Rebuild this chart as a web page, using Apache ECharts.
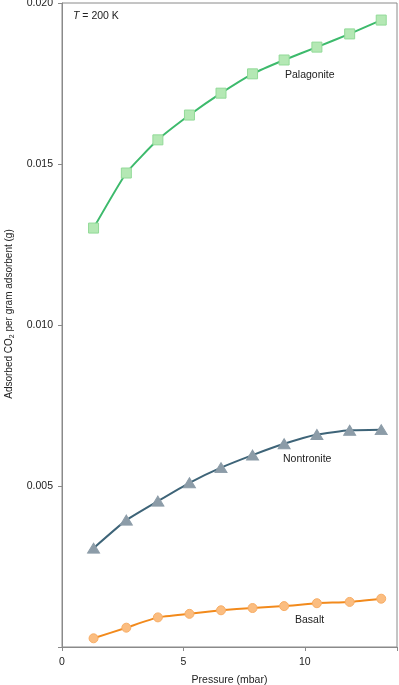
<!DOCTYPE html>
<html><head><meta charset="utf-8">
<script src="https://cdn.jsdelivr.net/npm/echarts@6/dist/echarts.min.js"></script>
<style>html,body{margin:0;padding:0;background:#fff}#c{width:399px;height:685px}</style>
</head><body><div id="c"></div>
<script>
const pressure = [1.3, 2.65, 3.95, 5.25, 6.55, 7.85, 9.15, 10.5, 11.85, 13.15];
const palagonite = [0.01301, 0.01472, 0.01575, 0.01652, 0.01720, 0.01780, 0.01823, 0.01863, 0.01904, 0.01947];
const nontronite = [0.00307, 0.00394, 0.00453, 0.00510, 0.00557, 0.00596, 0.00631, 0.00660, 0.00673, 0.00675];
const basalt = [0.00027, 0.00060, 0.00092, 0.00103, 0.00114, 0.00121, 0.00127, 0.00136, 0.00140, 0.00150];
const seriesNames = ['Palagonite', 'Nontronite', 'Basalt'];
const xTicks = [0, 5, 10];
const yTicks = [0.005, 0.010, 0.015, 0.020];

const pairs = ys => pressure.map((x, i) => [x, ys[i]]);
const font = 'Liberation Sans, Arial, sans-serif';
const chart = echarts.init(document.getElementById('c'), null, {renderer: 'canvas'});
chart.setOption({
  animation: false,
  grid: {left: 62, right: 2, top: 3, bottom: 38, containLabel: false, outerBoundsMode: 'none',
         show: true, borderColor: '#8a8a8a', borderWidth: 1},
  xAxis: {
    type: 'value', min: 0, max: 13.8, interval: 5,
    name: 'Pressure (mbar)', nameLocation: 'middle', nameGap: 28,
    nameTextStyle: {fontSize: 10.5, color: '#222', fontFamily: font},
    axisLine: {lineStyle: {color: '#8a8a8a'}},
    axisTick: {show: true, length: 4, lineStyle: {color: '#8a8a8a'}},
    axisLabel: {fontSize: 10.5, color: '#222', fontFamily: font, margin: 10,
      formatter: v => xTicks.includes(v) ? String(v) : ''},
    splitLine: {show: false}
  },
  yAxis: {
    type: 'value', min: 0, max: 0.020, interval: 0.005,
    name: '{n|Adsorbed CO}{s|2}{n| per gram adsorbent (g)}', nameLocation: 'middle', nameGap: 46,
    nameTextStyle: {fontSize: 10, color: '#222', fontFamily: font, padding: [0, 0, 0, 22],
      rich: {n: {fontSize: 10, color: '#222', fontFamily: font},
             s: {fontSize: 7, color: '#222', fontFamily: font, padding: [6, 0, 0, 0]}}},
    axisLine: {show: true, lineStyle: {color: '#8a8a8a'}},
    axisTick: {show: true, length: 4, lineStyle: {color: '#8a8a8a'}},
    axisLabel: {fontSize: 10.5, color: '#222', fontFamily: font, margin: 9,
      formatter: v => yTicks.some(t => Math.abs(t - v) < 1e-9) ? v.toFixed(3) : ''},
    splitLine: {show: false}
  },
  series: [
    {name: seriesNames[0], type: 'line', data: pairs(palagonite), smooth: 0.15,
     symbol: 'rect', symbolSize: 10,
     lineStyle: {color: '#3dba6c', width: 2},
     itemStyle: {color: '#b4e8b4', borderColor: '#92da98', borderWidth: 1}},
    {name: seriesNames[1], type: 'line', data: pairs(nontronite), smooth: 0.15,
     symbol: 'triangle', symbolSize: [12, 10],
     lineStyle: {color: '#3e6478', width: 2},
     itemStyle: {color: '#8c9ca8', borderColor: '#8c9ca8', borderWidth: 1}},
    {name: seriesNames[2], type: 'line', data: pairs(basalt), smooth: 0.15,
     symbol: 'circle', symbolSize: 9,
     lineStyle: {color: '#f28a1c', width: 2},
     itemStyle: {color: '#fbbd80', borderColor: '#f7ad66', borderWidth: 1}}
  ],
  graphic: [
    {type: 'text', left: 285, top: 70, style: {text: seriesNames[0], font: '10.5px ' + font, fill: '#222'}},
    {type: 'text', left: 283, top: 454, style: {text: seriesNames[1], font: '10.5px ' + font, fill: '#222'}},
    {type: 'text', left: 295, top: 615, style: {text: seriesNames[2], font: '10.5px ' + font, fill: '#222'}},
    {type: 'text', left: 73, top: 11, style: {text: '{i|T} = 200 K', font: '10.5px ' + font, fill: '#222',
      rich: {i: {fontStyle: 'italic', fontSize: 10.5, fontFamily: font, fill: '#222'}}}}
  ]
});
</script></body></html>
